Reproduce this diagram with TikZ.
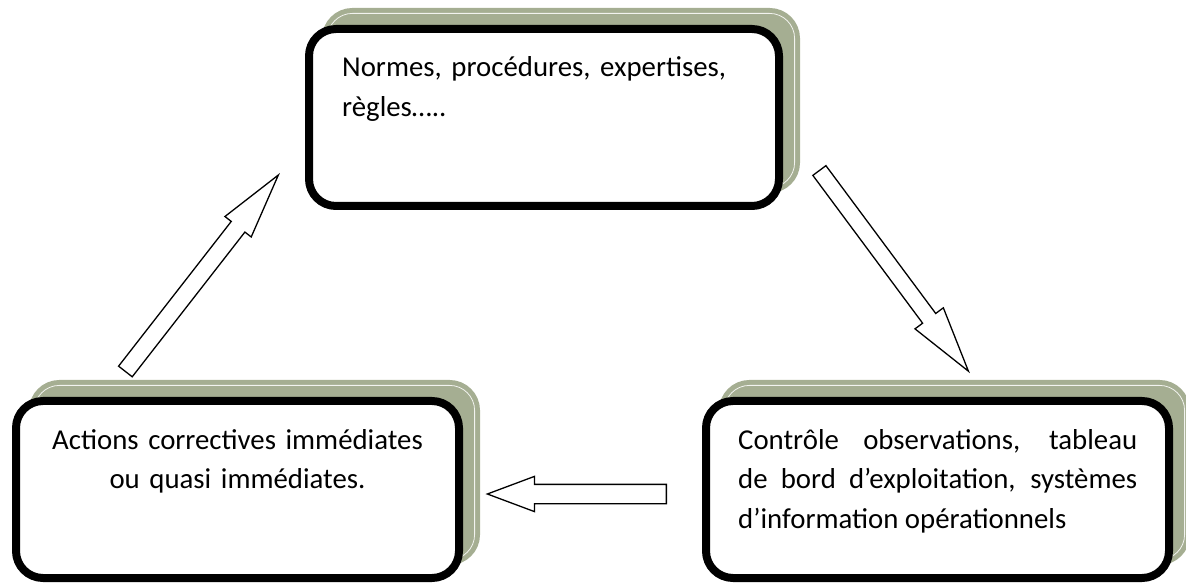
\documentclass[tikz,border=0pt]{standalone}
\usepackage{fontspec}
\setmainfont{Carlito}
\usetikzlibrary{shapes.arrows}
\definecolor{sage}{RGB}{165,174,146}
\begin{document}
\begin{tikzpicture}[x=1pt,y=1pt,
  % framed box with a thick black border
  panel/.style={rectangle, rounded corners=27pt, draw=black, line width=8pt,
    fill=white, inner sep=0pt},
  % offset backdrop behind each box, with a thin light inner rule
  backdrop/.style={rectangle, rounded corners=25pt, draw=sage, line width=5pt,
    double=white!85!sage, double distance=0.8pt, fill=sage, inner sep=0pt},
  boxtext/.style={inner sep=0pt, font=\fontsize{28.8}{39.5}\selectfont},
  % hollow block arrow; the shaft half-width is the vertical inner sep
  blockarrow/.style={single arrow, draw=black, fill=white, line width=1.3pt,
    inner xsep=0pt, minimum width=0pt, single arrow head indent=0pt, anchor=tail}
]
\clip (0,0) rectangle (1186,584);

% backdrops (outer size of the box, shifted up and to the right)
\node[backdrop, minimum width=467.2pt, minimum height=174.2pt] (topshadow) at (561,483.5) {};
\node[backdrop, minimum width=440.2pt, minimum height=174.2pt] (leftshadow) at (254.5,111.5) {};
\node[backdrop, minimum width=460.2pt, minimum height=174.2pt] (rightshadow) at (954.5,111.5) {};

% boxes
\node[panel, minimum width=470pt, minimum height=177pt] (top) at (544,466.5) {};
\node[panel, minimum width=443pt, minimum height=177pt] (left) at (237.5,94.5) {};
\node[panel, minimum width=463pt, minimum height=177pt] (right) at (937.5,94.5) {};

% texts
\node[boxtext, anchor=base west, text width=410pt, align=left] (toptext) at (342,507)
  {Normes, procédures, expertises,\\règles…..};
\node[boxtext, anchor=base, text width=430pt, align=center] (lefttext) at (237.5,135)
  {Actions correctives immédiates\\ou quasi immédiates.};
\node[boxtext, anchor=base west, text width=399pt, align=justify] (righttext) at (738,135)
  {Contrôle observations, tableau\linebreak de bord d’exploitation, systèmes\linebreak d’information opérationnels};

% cycle arrows, each placed by its tail
\coordinate (downtail) at (819,414);
\coordinate (backtail) at (667,90);
\coordinate (uptail) at (125,212);
\node[blockarrow, minimum height=250pt, inner ysep=7.5pt, single arrow head extend=9.5pt,
  single arrow tip angle=30, rotate=-53.4] (downarrow) at (downtail) {};
\node[blockarrow, minimum height=179pt, inner ysep=9pt, single arrow head extend=8pt,
  single arrow tip angle=41, rotate=180] (backarrow) at (backtail) {};
\node[blockarrow, minimum height=249pt, inner ysep=8pt, single arrow head extend=8pt,
  single arrow tip angle=28.5, rotate=52.1] (uparrow) at (uptail) {};
\end{tikzpicture}
\end{document}
